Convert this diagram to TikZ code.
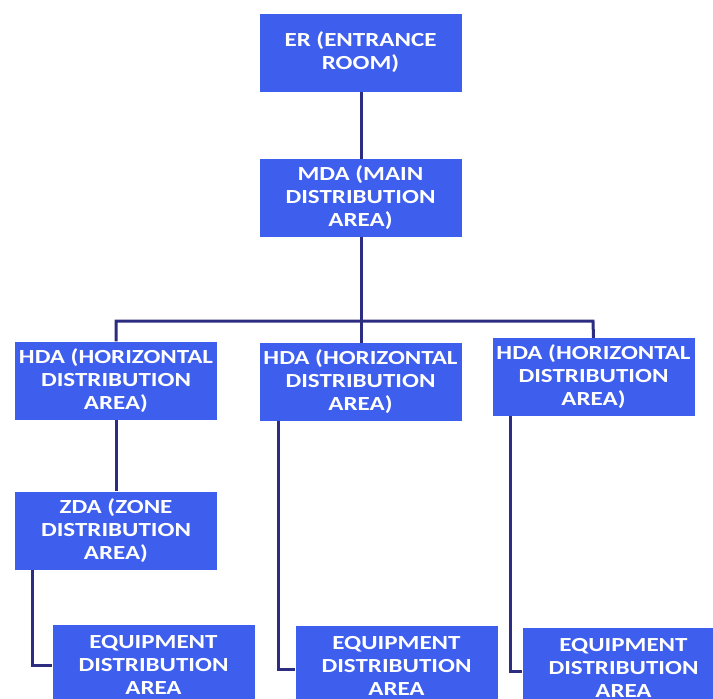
\documentclass[tikz,border=0pt]{standalone}
\usepackage{fontspec}
\newfontfamily\boxfont{Carlito}[FakeStretch=1.25]
\definecolor{boxblue}{RGB}{62,94,238}
\definecolor{linknavy}{RGB}{44,44,128}
\begin{document}
\begin{tikzpicture}[x=1pt,y=-1pt,
  area/.style={draw=none, fill=boxblue, text=white, inner sep=0pt,
    minimum width=202pt, minimum height=78pt, align=center,
    font=\boxfont\bfseries\fontsize{20}{23}\selectfont},
  link/.style={draw=linknavy, line width=3pt}]
  \useasboundingbox (0,0) rectangle (713,699);
  \clip (0,0) rectangle (713,699);

  % boxes
  \node[area] (er)   at (360.5,52.5)  {ER (ENTRANCE\\ROOM)};
  \node[area] (mda)  at (360.5,198)   {MDA (MAIN\\DISTRIBUTION\\AREA)};
  \node[area] (hda1) at (116,380.5)   {HDA (HORIZONTAL\\DISTRIBUTION\\AREA)};
  \node[area] (hda2) at (360.5,382)   {HDA (HORIZONTAL\\DISTRIBUTION\\AREA)};
  \node[area] (hda3) at (593.5,377)   {HDA (HORIZONTAL\\DISTRIBUTION\\AREA)};
  \node[area] (zda)  at (116,530.5)   {ZDA (ZONE\\DISTRIBUTION\\AREA)};
  \node[area, minimum height=80pt] (eda1) at (153.5,665) {EQUIPMENT\\DISTRIBUTION\\AREA};
  \node[area, minimum height=80pt] (eda2) at (396.5,666) {EQUIPMENT\\DISTRIBUTION\\AREA};
  \node[area, minimum height=80pt] (eda3) at (623.5,668) {EQUIPMENT\\DISTRIBUTION\\AREA};

  % bus joining the three horizontal areas
  \coordinate (busl) at (116,321);
  \coordinate (busm) at (361,321);
  \coordinate (busr) at (593,321);

  % connectors
  \draw[link] ([xshift=0.5pt]er.south) -- ([xshift=0.5pt]mda.north);
  \draw[link] ([xshift=0.5pt]mda.south) -- (busm);
  \draw[link] (hda1.north) -- (busl) -- (busr) -- (hda3.north);
  \draw[link] (busm) -- ([xshift=0.5pt]hda2.north);
  \draw[link] (hda1.south) -- (zda.north);
  \draw[link] ([xshift=18pt]zda.south west) |- (eda1.west);
  \draw[link] ([xshift=19pt]hda2.south west) |- ([yshift=-3pt]eda2.west);
  \draw[link] ([xshift=18pt]hda3.south west) |- ([yshift=-3pt]eda3.west);
\end{tikzpicture}
\end{document}
